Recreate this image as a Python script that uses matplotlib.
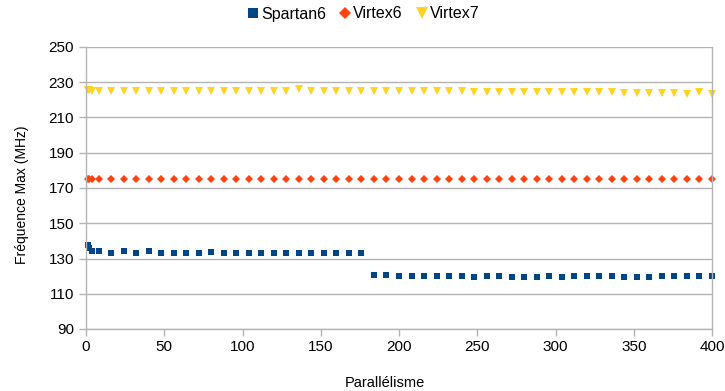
import matplotlib
matplotlib.use("Agg")
import matplotlib.pyplot as plt
from matplotlib.lines import Line2D

plt.rcParams['font.family'] = ['Liberation Sans', 'DejaVu Sans']

x = [1, 2, 4, 8] + list(range(16, 401, 8))

spartan6 = [137.5, 136, 134.5, 134,
            133, 134, 133, 134, 133, 133, 133, 133, 133.5, 133,
            133, 133, 133, 133, 133, 133, 133, 133, 133, 133, 133,
            120.5, 120.5, 120, 120, 120, 120, 120, 120, 119.5, 120,
            120, 119.5, 119.5, 119.5, 120, 119.5, 120, 120, 120, 120,
            119.5, 119.5, 119.5, 120, 120, 120, 120, 120]
virtex6 = [175] * len(x)
virtex7 = [225.5, 225.5, 225.3, 225.2,
           225.1, 225.1, 225.1, 225.1, 225.1, 225.1, 225.1, 225.1, 225.1, 225.1,
           225.1, 225.1, 225.1, 225.1, 225.1, 226.2, 225.1, 225, 225, 225, 225,
           224.8, 224.8, 224.8, 224.8, 224.8, 224.8, 224.8, 224.8, 224.6, 224.6,
           224.6, 224.6, 224.5, 224.5, 224.5, 224.3, 224.3, 224.3, 224.2, 224.2,
           224, 224, 223.8, 223.8, 223.8, 223.6, 224.2, 223.5]

blue = '#004586'
red = '#ff420e'
yellow = '#ffd320'
grid_c = '#b3b3b3'

fig = plt.figure(figsize=(7.25, 3.91), dpi=100)
ax = fig.add_axes([86/725, 1 - 329/391, (712-86)/725, (329-47)/391])

ax.plot(x, spartan6, linestyle='none', marker='s', markersize=4.2, markeredgewidth=0, color=blue, label='Spartan6', clip_on=False)
ax.plot(x, virtex6, linestyle='none', marker='D', markersize=4.2, markeredgewidth=0, color=red, label='Virtex6', clip_on=False)
ax.plot(x, virtex7, linestyle='none', marker='v', markersize=5.5, markeredgewidth=0, color=yellow, label='Virtex7', clip_on=False)

ax.set_xlim(0, 400)
ax.set_ylim(90, 250)
ax.set_xticks(range(0, 401, 50))
ax.set_yticks(range(90, 251, 20))
ax.yaxis.grid(True, color=grid_c, linewidth=1)
ax.set_axisbelow(True)
for s in ['left', 'bottom', 'right']:
    ax.spines[s].set_color(grid_c)
    ax.spines[s].set_linewidth(1)
ax.spines['top'].set_visible(False)
ax.tick_params(axis='both', colors=grid_c, labelcolor='#000000', labelsize=11, length=5, width=1)
ax.tick_params(axis='x', pad=3)

fig.text(22/725, 1 - 195/391, 'Fréquence Max (MHz)', fontsize=10, rotation=90, ha='center', va='center')
fig.text(385/725, 1 - 383/391, 'Parallélisme', fontsize=10.5, ha='center', va='center')

handles = [Line2D([], [], linestyle='none', marker='s', markersize=7, markeredgewidth=0, color=blue),
           Line2D([], [], linestyle='none', marker='D', markersize=6, markeredgewidth=0, color=red),
           Line2D([], [], linestyle='none', marker='v', markersize=9, markeredgewidth=0, color=yellow)]
fig.legend(handles, ['Spartan6', 'Virtex6', 'Virtex7'], loc='center', bbox_to_anchor=(0.5, 1 - 14/391),
           ncol=3, frameon=False, fontsize=11.5, handletextpad=0.0, columnspacing=0.7, handlelength=1.0)

fig.savefig('out.png', dpi=100)
